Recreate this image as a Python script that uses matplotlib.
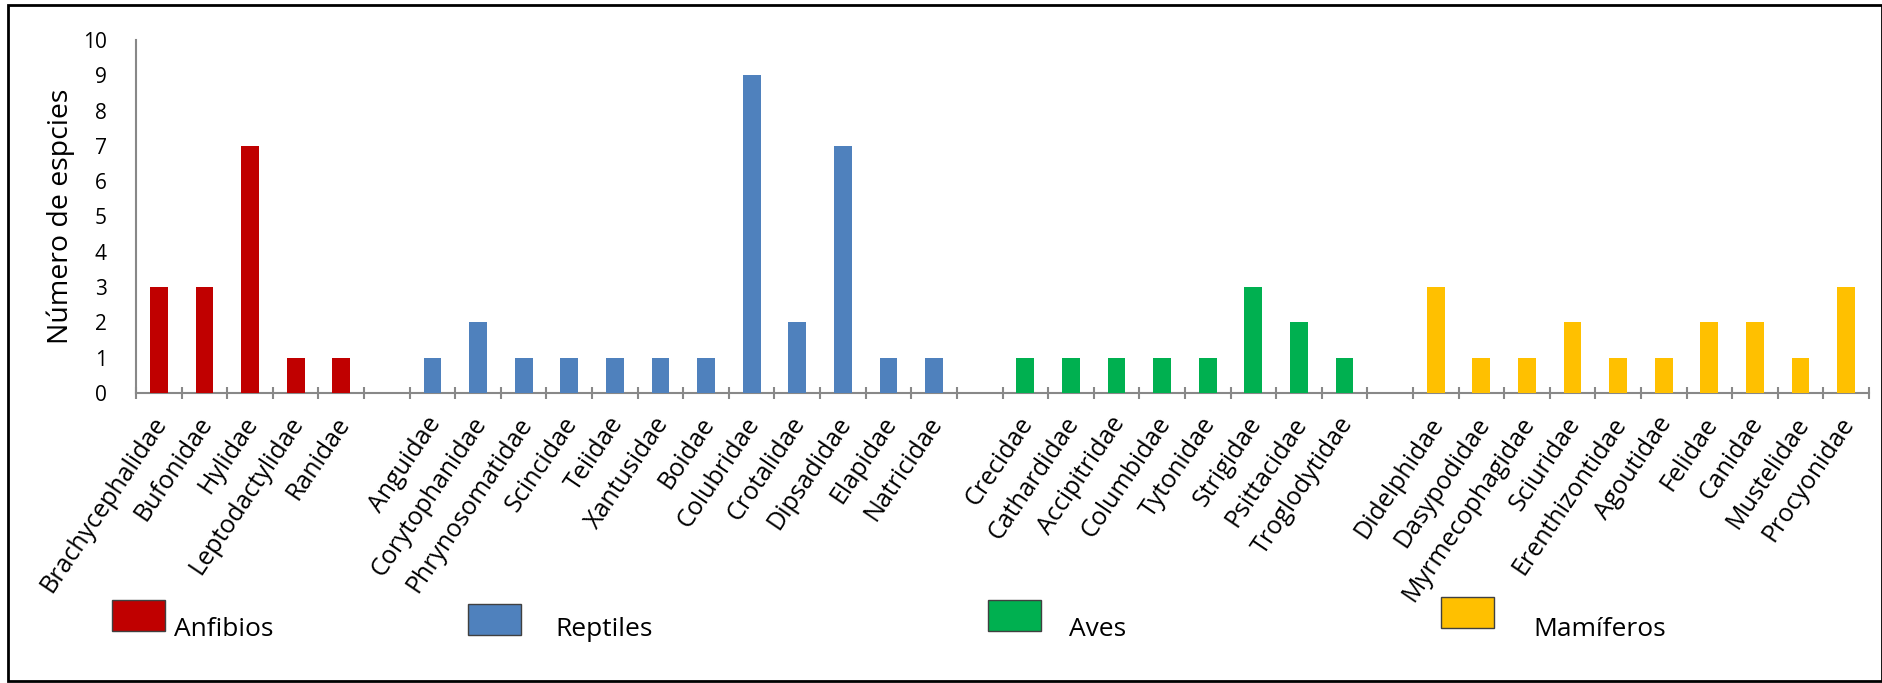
import matplotlib
matplotlib.use('Agg')
import matplotlib.pyplot as plt
from matplotlib.patches import Rectangle
import matplotlib.transforms as mtransforms

plt.rcParams['font.family'] = ['Open Sans', 'DejaVu Sans']

# datos por grupo
anfibios = ['Brachycephalidae', 'Bufonidae', 'Hylidae', 'Leptodactylidae', 'Ranidae']
anfibios_n = [3, 3, 7, 1, 1]
reptiles = ['Anguidae', 'Corytophanidae', 'Phrynosomatidae', 'Scincidae', 'Teiidae',
            'Xantusidae', 'Boidae', 'Colubridae', 'Crotalidae', 'Dipsadidae',
            'Elapidae', 'Natricidae']
reptiles_n = [1, 2, 1, 1, 1, 1, 1, 9, 2, 7, 1, 1]
aves = ['Crecidae', 'Cathardidae', 'Accipitridae', 'Columbidae', 'Tytonidae',
        'Strigidae', 'Psittacidae', 'Troglodytidae']
aves_n = [1, 1, 1, 1, 1, 3, 2, 1]
mamiferos = ['Didelphidae', 'Dasypodidae', 'Myrmecophagidae', 'Sciuridae',
             'Erenthizontidae', 'Agoutidae', 'Felidae', 'Canidae', 'Mustelidae',
             'Procyonidae']
mamiferos_n = [3, 1, 1, 2, 1, 1, 2, 2, 1, 3]

grupos = ['Anfibios', 'Reptiles', 'Aves', 'Mamíferos']
colores = ['#C00000', '#4F81BD', '#00B050', '#FFC000']

fig = plt.figure(figsize=(18.83, 6.83), dpi=100)
ax = fig.add_axes([136/1883, 1 - 393/683, (1869-136)/1883, (393-40)/683])

familias = []
pos = []
x = 0
for nombres, valores, col in zip([anfibios, reptiles, aves, mamiferos],
                                 [anfibios_n, reptiles_n, aves_n, mamiferos_n], colores):
    xs = list(range(x, x + len(nombres)))
    ax.bar(xs, valores, width=0.39, color=col, zorder=3)
    familias += nombres
    pos += xs
    x += len(nombres) + 1
n_slots = x - 1

ax.set_xlim(-0.5, n_slots - 0.5)
ax.set_ylim(0, 10)

for s in ['top', 'right']:
    ax.spines[s].set_visible(False)
for s in ['left', 'bottom']:
    ax.spines[s].set_color('#888888')
    ax.spines[s].set_linewidth(1.5)

ax.set_yticks(range(0, 11))
ax.tick_params(axis='y', length=0, pad=21, labelsize=15)

ax.set_xticks(pos)
ax.set_xticklabels(familias, fontsize=18)
ax.set_xticks([i - 0.5 for i in range(n_slots + 1)], minor=True)
ax.tick_params(axis='x', which='major', length=0, pad=19)
ax.tick_params(axis='x', which='minor', direction='inout', length=9,
               width=1.5, color='#888888')
offset = mtransforms.ScaledTranslation(0.03, 0, fig.dpi_scale_trans)
for lab in ax.get_xticklabels():
    lab.set_rotation(56)
    lab.set_ha('right')
    lab.set_va('center')
    lab.set_rotation_mode('anchor')
    lab.set_transform(lab.get_transform() + offset)

ax.set_ylabel('Número de espcies', fontsize=20.5, labelpad=6)

# leyenda manual
leg_x = [112, 468, 988, 1441]
leg_y = [600, 604, 600, 597]
txt_x = [174, 555, 1069, 1533]
W, H = 1883, 683
for g, c, lx, ly, tx in zip(grupos, colores, leg_x, leg_y, txt_x):
    fig.patches.append(Rectangle((lx / W, 1 - (ly + 31) / H), 53 / W, 31 / H,
                                 transform=fig.transFigure, facecolor=c,
                                 edgecolor='#404040', linewidth=1))
    fig.text(tx / W, 1 - 630 / H, g, fontsize=19, va='center', ha='left')

fig.patches.append(Rectangle((8 / W, 2 / H), (1882 - 8) / W, (678 - 2) / H,
                             transform=fig.transFigure, fill=False,
                             edgecolor='black', linewidth=2))

fig.savefig('out.png', dpi=100)
